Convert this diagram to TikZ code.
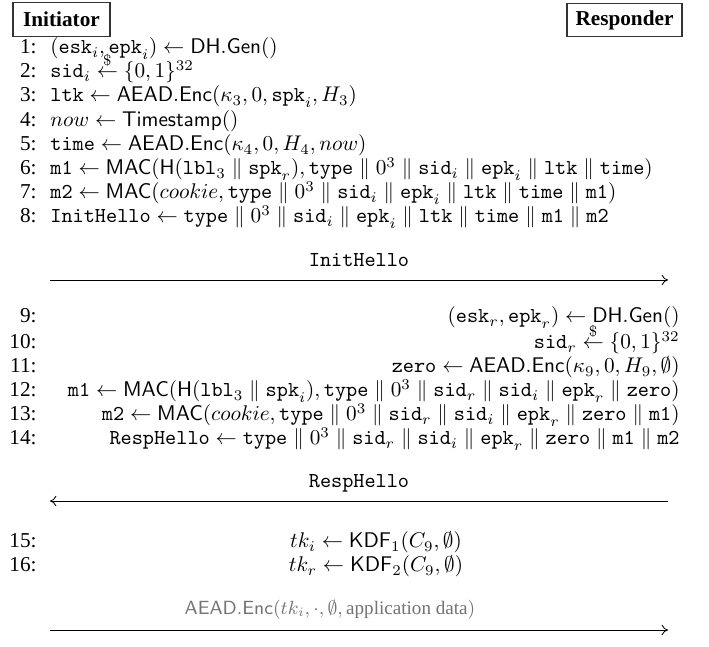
\documentclass[tikz,border=0pt]{standalone}
\usepackage{amsmath,amssymb}
\usepackage[no-math]{fontspec}
\setmainfont{Liberation Serif}
\usetikzlibrary{arrows.meta}
\newcommand{\tv}[1]{\mathtt{#1}}
\newcommand{\fn}[1]{\mathsf{#1}}
\newcommand{\cc}{\parallel}
\newcommand{\rnd}{\stackrel{\$}{\leftarrow}}
\begin{document}
\begin{tikzpicture}[x=0.4712pt,y=-0.4712pt,
  num/.style={anchor=mid east,inner sep=0pt},
  lt/.style={anchor=mid west,inner sep=0pt},
  rt/.style={anchor=mid east,inner sep=0pt},
  ct/.style={anchor=mid,inner sep=0pt},
  party/.style={draw=black!80,line width=0.5pt,font=\bfseries,minimum height=15.6pt,inner sep=0pt},
  msg/.style={line width=0.4pt,-{To[length=3pt,width=5pt]}},
  graytext/.style={ct,text=black!55,font=\small}]
\useasboundingbox (0,0) rectangle (709,647);
% parties
\node[party,minimum width=45.7pt] (ini) at (61.5,19.5) {Initiator};
\node[party,minimum width=54.2pt] (res) at (624.5,20) {Responder};
% initiator lines
\node[num] (n1) at (37,49) {1:};
\node[lt] (l1) at (50,49) {$(\tv{esk}_i, \tv{epk}_i) \leftarrow \fn{DH.Gen}()$};
\node[num] (n2) at (37,73) {2:};
\node[lt] (l2) at (50,73) {$\tv{sid}_i \rnd \{0,1\}^{32}$};
\node[num] (n3) at (37,97) {3:};
\node[lt] (l3) at (50,97) {$\tv{ltk} \leftarrow \fn{AEAD.Enc}(\kappa_3, 0, \tv{spk}_i, H_3)$};
\node[num] (n4) at (37,122) {4:};
\node[lt] (l4) at (50,122) {$now \leftarrow \fn{Timestamp}()$};
\node[num] (n5) at (37,146) {5:};
\node[lt] (l5) at (50,146) {$\tv{time} \leftarrow \fn{AEAD.Enc}(\kappa_4, 0, H_4, now)$};
\node[num] (n6) at (37,170) {6:};
\node[lt] (l6) at (50,170) {$\tv{m1} \leftarrow \fn{MAC}(\fn{H}(\tv{lbl}_3 \cc \tv{spk}_r), \tv{type} \cc 0^3 \cc \tv{sid}_i \cc \tv{epk}_i \cc \tv{ltk} \cc \tv{time})$};
\node[num] (n7) at (37,194) {7:};
\node[lt] (l7) at (50,194) {$\tv{m2} \leftarrow \fn{MAC}(cookie, \tv{type} \cc 0^3 \cc \tv{sid}_i \cc \tv{epk}_i \cc \tv{ltk} \cc \tv{time} \cc \tv{m1})$};
\node[num] (n8) at (37,218) {8:};
\node[lt] (l8) at (50,218) {$\tv{InitHello} \leftarrow \tv{type} \cc 0^3 \cc \tv{sid}_i \cc \tv{epk}_i \cc \tv{ltk} \cc \tv{time} \cc \tv{m1} \cc \tv{m2}$};
% message 1
\coordinate (a1s) at (50,280);
\coordinate (a1e) at (668,280);
\node[ct] (m1lab) at (359,262) {$\tv{InitHello}$};
\draw[msg] (a1s) -- (a1e);
% responder lines
\node[num] (n9) at (37,318) {9:};
\node[rt] (l9) at (680,318) {$(\tv{esk}_r, \tv{epk}_r) \leftarrow \fn{DH.Gen}()$};
\node[num] (n10) at (37,344) {10:};
\node[rt] (l10) at (680,344) {$\tv{sid}_r \rnd \{0,1\}^{32}$};
\node[num] (n11) at (37,368) {11:};
\node[rt] (l11) at (680,368) {$\tv{zero} \leftarrow \fn{AEAD.Enc}(\kappa_9, 0, H_9, \emptyset)$};
\node[num] (n12) at (37,392) {12:};
\node[rt] (l12) at (680,392) {$\tv{m1} \leftarrow \fn{MAC}(\fn{H}(\tv{lbl}_3 \cc \tv{spk}_i), \tv{type} \cc 0^3 \cc \tv{sid}_r \cc \tv{sid}_i \cc \tv{epk}_r \cc \tv{zero})$};
\node[num] (n13) at (37,416) {13:};
\node[rt] (l13) at (680,416) {$\tv{m2} \leftarrow \fn{MAC}(cookie, \tv{type} \cc 0^3 \cc \tv{sid}_r \cc \tv{sid}_i \cc \tv{epk}_r \cc \tv{zero} \cc \tv{m1})$};
\node[num] (n14) at (37,440) {14:};
\node[rt] (l14) at (680,440) {$\tv{RespHello} \leftarrow \tv{type} \cc 0^3 \cc \tv{sid}_r \cc \tv{sid}_i \cc \tv{epk}_r \cc \tv{zero} \cc \tv{m1} \cc \tv{m2}$};
% message 2
\coordinate (a2s) at (668,501);
\coordinate (a2e) at (50,501);
\node[ct] (m2lab) at (359,483) {$\tv{RespHello}$};
\draw[msg] (a2s) -- (a2e);
% key derivation
\node[num] (n15) at (37,543) {15:};
\node[ct] (l15) at (376,543) {$tk_i \leftarrow \fn{KDF}_1(C_9, \emptyset)$};
\node[num] (n16) at (37,567) {16:};
\node[ct] (l16) at (376,567) {$tk_r \leftarrow \fn{KDF}_2(C_9, \emptyset)$};
% message 3
\coordinate (a3s) at (50,630);
\coordinate (a3e) at (668,630);
\node[graytext] (m3lab) at (330,610) {$\fn{AEAD.Enc}(tk_i, \cdot, \emptyset, \text{application data})$};
\draw[msg] (a3s) -- (a3e);
\end{tikzpicture}
\end{document}
